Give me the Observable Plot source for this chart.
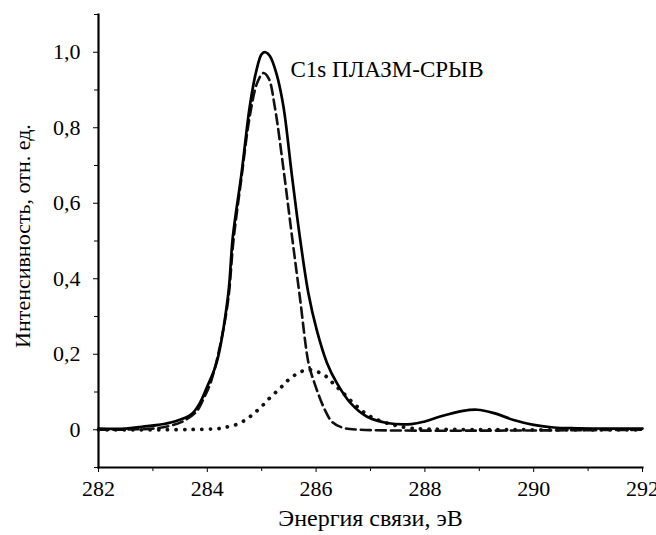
<!DOCTYPE html>
<html><head><meta charset="utf-8">
<script src="https://cdn.jsdelivr.net/npm/d3@7"></script>
<script src="https://cdn.jsdelivr.net/npm/@observablehq/plot@0.6"></script>
<style>
body{margin:0;background:#fff}
</style>
</head><body><div id="chart"></div>
<script>
// Envelope (solid) — total spectrum
const envelopeX = [282.0, 282.5, 282.8, 283.1, 283.4, 283.7, 283.86, 284.0, 284.17, 284.38, 284.47, 284.63, 284.78, 284.9, 285.0, 285.07, 285.15, 285.27, 285.4, 285.55, 285.7, 285.86, 286.01, 286.2, 286.38, 286.63, 286.93, 287.3, 287.75, 288.0, 288.28, 288.7, 288.96, 289.27, 289.63, 290.0, 290.37, 290.8, 291.5, 292.0];
const envelopeY = [0.003, 0.003, 0.008, 0.013, 0.022, 0.040, 0.07, 0.115, 0.177, 0.353, 0.512, 0.68, 0.856, 0.95, 0.995, 1.0, 0.99, 0.944, 0.856, 0.68, 0.512, 0.36, 0.265, 0.177, 0.124, 0.071, 0.035, 0.018, 0.015, 0.022, 0.035, 0.050, 0.053, 0.044, 0.026, 0.013, 0.006, 0.004, 0.003, 0.003];
// Main component (dashed)
const mainX = [282.0, 283.0, 283.3, 283.55, 283.8, 283.95, 284.05, 284.2, 284.38, 284.48, 284.63, 284.78, 284.92, 285.03, 285.13, 285.24, 285.41, 285.55, 285.7, 285.86, 285.95, 286.16, 286.3, 286.5, 286.8, 292.0];
const mainY = [0, 0.003, 0.01, 0.022, 0.048, 0.088, 0.12, 0.2, 0.34, 0.50, 0.67, 0.83, 0.92, 0.945, 0.93, 0.856, 0.68, 0.52, 0.353, 0.177, 0.132, 0.053, 0.02, 0.005, 0, 0];
// Second component (dotted)
const secondX = [282.0, 284.2, 284.35, 284.52, 284.69, 284.84, 285.0, 285.16, 285.34, 285.49, 285.67, 285.83, 285.98, 286.16, 286.3, 286.5, 286.75, 287.0, 287.36, 287.7, 288.0, 292.0];
const secondY = [0, 0.003, 0.007, 0.013, 0.025, 0.041, 0.062, 0.086, 0.110, 0.132, 0.150, 0.159, 0.156, 0.144, 0.125, 0.097, 0.062, 0.035, 0.015, 0.005, 0.002, 0];

const xMajorTicks = [282, 284, 286, 288, 290, 292];
const xMinorTicks = [283, 285, 287, 289, 291];
const yMajorTicks = [0, 0.2, 0.4, 0.6, 0.8, 1.0];
const yTickLabels = ["0", "0,2", "0,4", "0,6", "0,8", "1,0"];
const yMinorTicks = [-0.1, 0.1, 0.3, 0.5, 0.7, 0.9, 1.1];
const xTitle = "Энергия связи, эВ";
const yTitle = "Интенсивность, отн. ед.";
const annotation = [{x: 285.53, y: 0.954, text: "C1s ПЛАЗМ-СРЫВ"}];

const rows = (xs, ys) => xs.map((x, i) => ({x, y: ys[i]}));
const serif = "'Times New Roman', 'Liberation Serif', Tinos, 'DejaVu Serif', serif";

const chart = Plot.plot({
  width: 656, height: 535,
  marginTop: 14, marginRight: 14, marginBottom: 68, marginLeft: 98,
  style: {fontSize: "22px", color: "#000", background: "#fff"},
  x: {domain: [282, 292]},
  y: {domain: [-0.1, 1.1]},
  marks: [
    Plot.axisX({ticks: xMajorTicks, tickSize: 5, tickPadding: 8, tickFormat: d => String(d), fontSize: 22, label: null}),
    Plot.axisX({ticks: xMinorTicks, tickSize: 4, tickFormat: () => "", label: null}),
    Plot.axisY({ticks: yMajorTicks, tickSize: 5, tickPadding: 13, tickFormat: d => yTickLabels[yMajorTicks.indexOf(d)], fontSize: 22, label: null}),
    Plot.axisY({ticks: yMinorTicks, tickSize: 4, tickFormat: () => "", label: null}),
    Plot.text([xTitle], {frameAnchor: "bottom", text: d => d, dy: 58, textAnchor: "middle", lineAnchor: "bottom", fontSize: 24, fill: "#000"}),
    Plot.text([yTitle], {frameAnchor: "left", text: d => d, rotate: -90, dx: -76, dy: -5, textAnchor: "middle", lineAnchor: "middle", fontSize: 22, fill: "#000"}),
    Plot.frame({anchor: "left", strokeWidth: 2.2}),
    Plot.frame({anchor: "bottom", strokeWidth: 2.2}),
    Plot.line(rows(secondX, secondY), {x: "x", y: "y", curve: "catmull-rom", stroke: "#111", strokeWidth: 3.8, strokeDasharray: "0.1 8.5", strokeLinecap: "round"}),
    Plot.line(rows(mainX, mainY), {x: "x", y: "y", curve: "catmull-rom", stroke: "#111", strokeWidth: 2.6, strokeDasharray: "10 5"}),
    Plot.line(rows(envelopeX, envelopeY), {x: "x", y: "y", curve: "catmull-rom", stroke: "#000", strokeWidth: 2.7}),
    Plot.text(annotation, {x: "x", y: "y", text: "text", textAnchor: "start", fontSize: 23, fill: "#000"})
  ]
});
chart.style.fontFamily = serif;
d3.select(chart).selectAll("g, text").attr("font-family", null).style("font-family", serif);
document.getElementById("chart").appendChild(chart);
</script>
</body></html>
